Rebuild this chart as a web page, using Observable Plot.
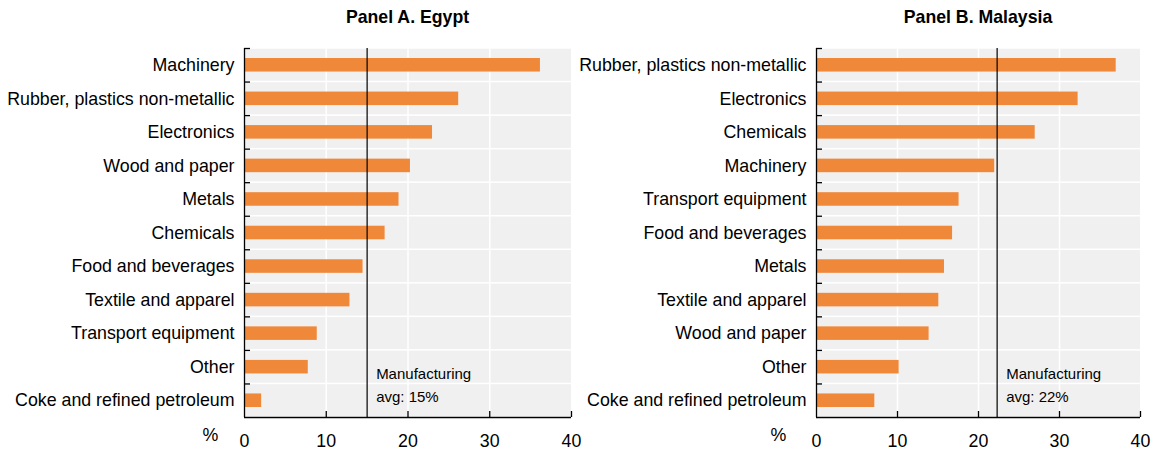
<!DOCTYPE html>
<html>
<head>
<meta charset="utf-8">
<script src="https://cdn.jsdelivr.net/npm/d3@7"></script>
<script src="https://cdn.jsdelivr.net/npm/@observablehq/plot@0.6"></script>
<style>
  html, body { margin: 0; padding: 0; background: #fff; }
  body { width: 1154px; height: 454px; overflow: hidden; font-family: "Liberation Sans", Arial, sans-serif; }
  #wrap { position: relative; width: 1154px; height: 454px; }
  .panel { position: absolute; top: 0; width: 577px; }
  .title { height: 34px; line-height: 34px; font-weight: bold; font-size: 17.7px; color: #000; text-align: center; }
  svg { display: block; overflow: visible !important; }
</style>
</head>
<body>
<div id="wrap"></div>
<script>
// ---- Data ----
const egyptCategories = [
  "Machinery", "Rubber, plastics non-metallic", "Electronics", "Wood and paper",
  "Metals", "Chemicals", "Food and beverages", "Textile and apparel",
  "Transport equipment", "Other", "Coke and refined petroleum"
];
const egyptValues = [36.2, 26.2, 23.0, 20.3, 18.9, 17.2, 14.5, 12.9, 8.9, 7.8, 2.1];
const egyptAverage = 15.0;
const egyptAvgLabel = "Manufacturing\navg: 15%";
const egyptTitle = "Panel A. Egypt";

const malaysiaCategories = [
  "Rubber, plastics non-metallic", "Electronics", "Chemicals", "Machinery",
  "Transport equipment", "Food and beverages", "Metals", "Textile and apparel",
  "Wood and paper", "Other", "Coke and refined petroleum"
];
const malaysiaValues = [37.0, 32.3, 27.0, 22.0, 17.6, 16.8, 15.8, 15.1, 13.9, 10.2, 7.2];
const malaysiaAverage = 22.3;
const malaysiaAvgLabel = "Manufacturing\navg: 22%";
const malaysiaTitle = "Panel B. Malaysia";

const xTicks = [0, 10, 20, 30, 40];
const unitLabel = "%";

// ---- Drawing ----
const ORANGE = "#F0883A";
const PANEL_BG = "#F0F0F0";

function makePanel({categories, values, average, avgLabel, title, left, marginLeft, marginRight, pctDx}) {
  const width = 577, height = 420, marginTop = 14, marginBottom = 37;
  const innerWidth = width - marginLeft - marginRight;
  const innerHeight = height - marginTop - marginBottom;
  const step = innerHeight / categories.length;
  const rows = categories.map((c, i) => ({category: c, value: values[i]}));
  const xMin = xTicks[0], xMax = xTicks[xTicks.length - 1];
  const lastCat = categories[categories.length - 1];

  const chart = Plot.plot({
    width, height, marginTop, marginBottom, marginLeft, marginRight,
    style: {fontFamily: "'Liberation Sans', Arial, sans-serif", fontSize: "17.8px", color: "#000", background: "transparent", overflow: "visible"},
    x: {domain: [xMin, xMax], axis: null, label: null},
    y: {domain: categories, padding: 0, round: false, axis: null, label: null},
    marks: [
      // gray band backgrounds separated by thin white lines
      Plot.barX(categories, {y: d => d, x1: xMin, x2: xMax, fill: PANEL_BG, insetTop: 0.75, insetBottom: 0.75}),
      // white vertical gridlines
      Plot.ruleX(xTicks.slice(1, -1), {stroke: "white", strokeWidth: 1.5}),
      // bars
      Plot.barX(rows, {y: "category", x: "value", fill: ORANGE, insetTop: 10, insetBottom: 10}),
      // manufacturing average
      Plot.ruleX([average], {stroke: "#000", strokeWidth: 1.2}),
      Plot.text([avgLabel], {x: average, frameAnchor: "bottom", textAnchor: "start", lineAnchor: "bottom",
        dx: 9, dy: -16, fontSize: 15, lineHeight: 1.5, fill: "#000"}),
      // left axis line + inward ticks at band boundaries
      Plot.ruleX([xMin], {stroke: "#000", strokeWidth: 1.3}),
      Plot.tickY(categories, {y: d => d, dy: -step / 2, insetRight: innerWidth - 6, stroke: "#000", strokeWidth: 1.3}),
      // bottom axis line + inward ticks
      Plot.ruleY([lastCat], {dy: step / 2, stroke: "#000", strokeWidth: 1.3}),
      Plot.tickX(xTicks.slice(1), {x: d => d, insetTop: innerHeight - 6, stroke: "#000", strokeWidth: 1.3}),
      // axes labels
      Plot.axisY({tickSize: 0, tickPadding: 10, fontSize: 17.8, label: null}),
      Plot.axisX(xTicks, {tickSize: 0, tickPadding: 17, fontSize: 17.8, label: null}),
      Plot.text([unitLabel], {frameAnchor: "bottom-left", dx: pctDx, dy: 23, fontSize: 17.8, fill: "#000"})
    ]
  });

  const panel = document.createElement("div");
  panel.className = "panel";
  panel.style.left = left + "px";
  const t = document.createElement("div");
  t.className = "title";
  t.style.paddingLeft = marginLeft + "px";
  t.style.paddingRight = marginRight + "px";
  t.textContent = title;
  panel.appendChild(t);
  panel.appendChild(chart);
  document.getElementById("wrap").appendChild(panel);
}

makePanel({categories: egyptCategories, values: egyptValues, average: egyptAverage, avgLabel: egyptAvgLabel,
  title: egyptTitle, left: 0, marginLeft: 244, marginRight: 6, pctDx: -42});
makePanel({categories: malaysiaCategories, values: malaysiaValues, average: malaysiaAverage, avgLabel: malaysiaAvgLabel,
  title: malaysiaTitle, left: 577, marginLeft: 239, marginRight: 14, pctDx: -46});
</script>
</body>
</html>
